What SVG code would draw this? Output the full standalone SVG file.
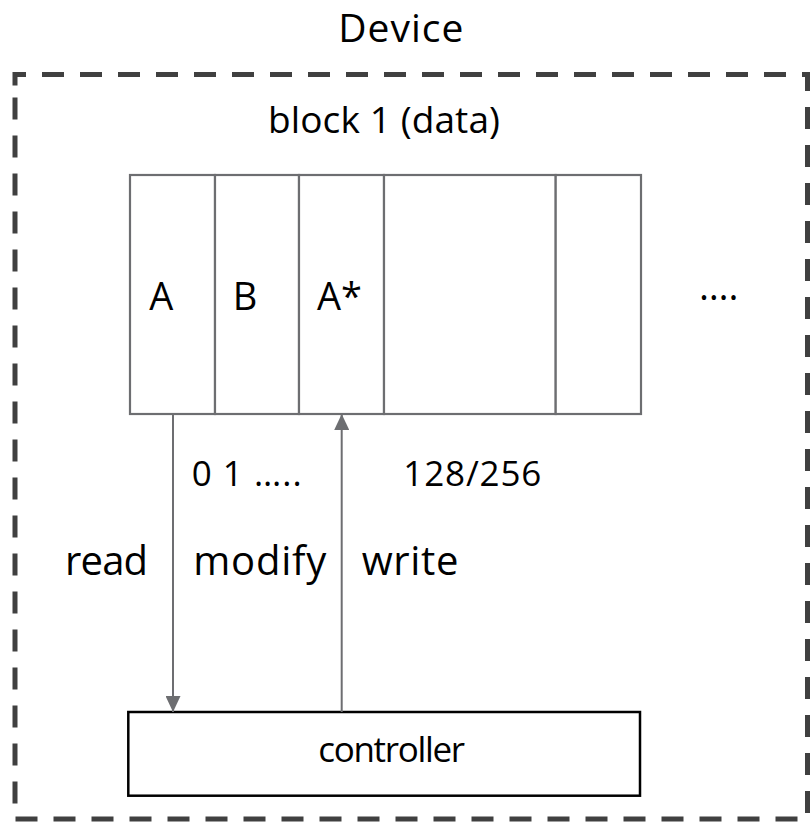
<svg xmlns="http://www.w3.org/2000/svg" width="810" height="822" viewBox="0 0 810 822">
  <style>
    .txt { font-family: "Open Sans", "Noto Sans", "Liberation Sans", sans-serif; fill: #000; }
    .cell { fill: #fff; stroke: #6d6e71; stroke-width: 2.2; }
    .link { stroke: #6d6e71; stroke-width: 2; fill: none; }
    .frame { fill: none; stroke: #404040; stroke-width: 5; stroke-dasharray: 22 16; }
  </style>
  <defs>
    <marker id="arrow" viewBox="0 0 16 15" refX="16" refY="7.5" markerUnits="userSpaceOnUse" markerWidth="16" markerHeight="15" orient="auto">
      <path d="M0,0 L16,7.5 L0,15 Z" fill="#6d6e71"/>
    </marker>
  </defs>
  <rect width="810" height="822" fill="#fff"/>

  <!-- device boundary -->
  <g id="device">
    <path class="frame" d="M15,85.5 L15,74.5 L807.5,74.5 L807.5,819 L15,819 Z"/>
    <text class="txt" x="400.8" y="41.7" font-size="39" text-anchor="middle" textLength="125">Device</text>
  </g>

  <!-- data block with its cells -->
  <g id="block">
    <text class="txt" x="384" y="133.3" font-size="37" text-anchor="middle" textLength="232">block 1 (data)</text>
    <g id="cell-a">
      <rect class="cell" x="130" y="175" width="85" height="239"/>
      <text class="txt" x="161.3" y="310" font-size="38" text-anchor="middle">A</text>
    </g>
    <g id="cell-b">
      <rect class="cell" x="215" y="175" width="84" height="239"/>
      <text class="txt" x="245" y="310" font-size="38" text-anchor="middle">B</text>
    </g>
    <g id="cell-a-star">
      <rect class="cell" x="299" y="175" width="85" height="239"/>
      <text class="txt" x="339.5" y="310" font-size="38" text-anchor="middle">A*</text>
    </g>
    <g id="cell-empty">
      <rect class="cell" x="384" y="175" width="171.7" height="239"/>
    </g>
    <g id="cell-last">
      <rect class="cell" x="555.7" y="175" width="85.3" height="239"/>
    </g>
    <text class="txt" x="699" y="300" font-size="38">….</text>
    <text class="txt" x="191.7" y="486" font-size="35" textLength="110">0 1 …..</text>
    <text class="txt" x="403.3" y="486" font-size="35" textLength="138">128/256</text>
  </g>

  <!-- controller -->
  <g id="controller">
    <rect x="128.3" y="712" width="511.7" height="83.7" fill="#fff" stroke="#000" stroke-width="2.5"/>
    <text class="txt" x="391.7" y="761.7" font-size="35" text-anchor="middle" textLength="146.7">controller</text>
  </g>

  <!-- read / write connectors -->
  <g id="connectors">
    <line class="link" x1="173" y1="414" x2="173" y2="712" marker-end="url(#arrow)"/>
    <line class="link" x1="341.7" y1="712" x2="341.7" y2="414" marker-end="url(#arrow)"/>
    <text class="txt" x="65" y="575" font-size="40" textLength="83">read</text>
    <text class="txt" x="193.3" y="575" font-size="40" textLength="133">modify</text>
    <text class="txt" x="361.7" y="575" font-size="40" textLength="96.7">write</text>
  </g>
</svg>
